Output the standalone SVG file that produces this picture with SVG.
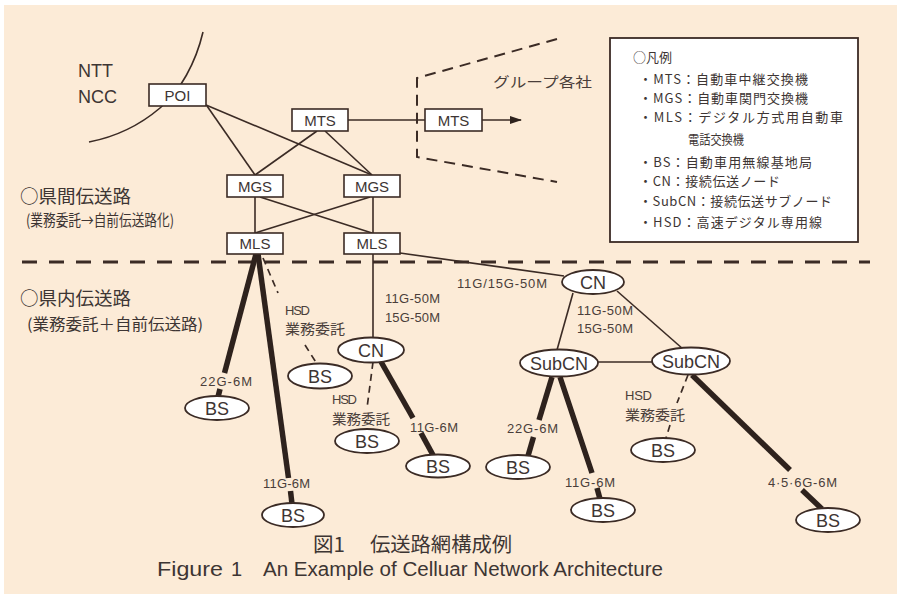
<svg xmlns="http://www.w3.org/2000/svg" width="903" height="598" viewBox="0 0 903 598">
<defs>
<style>
.ln{stroke:#3b2b25;stroke-width:1.6;fill:none}
.thk{stroke:#2e221d;stroke-width:5.5;fill:none}
.dsh{stroke:#3b2b25;stroke-width:1.7;fill:none;stroke-dasharray:7 5}
.box{fill:#fff;stroke:#3b2b25;stroke-width:1.6}
.ell{fill:#fff;stroke:#3b2b25;stroke-width:1.8}
.bt{font-family:"Liberation Sans","Noto Sans",sans-serif;font-size:15px;fill:#3d3533;text-anchor:middle}
.et{font-family:"Liberation Sans","Noto Sans",sans-serif;font-size:18px;fill:#3d3533;text-anchor:middle}
.lb{font-family:"Liberation Sans","Noto Sans",sans-serif;font-size:13px;fill:#4a3e3a}
.jl{font-family:"Noto Sans CJK JP",sans-serif;font-size:14px;fill:#4a3e3a}
.lg{font-family:"Noto Sans CJK JP",sans-serif;font-size:13px;fill:#3d3533}
.sec{font-family:"Noto Sans CJK JP",sans-serif;font-size:18.5px;fill:#3d3533}
.sub{font-family:"Noto Sans CJK JP",sans-serif;font-size:15.5px;fill:#3d3533}
.big{font-family:"Liberation Sans","Noto Sans",sans-serif;font-size:18px;fill:#3d3533}
.cap{fill:#3d3533}
</style>
<marker id="arr" markerWidth="12" markerHeight="8" refX="11" refY="4" orient="auto" markerUnits="userSpaceOnUse">
<path d="M0,0 L12,4 L0,8 Z" fill="#2e221d"/>
</marker>
</defs>
<rect x="0" y="0" width="903" height="598" fill="#ffffff"/>
<rect x="4" y="5" width="893" height="589" fill="#fcebd7"/>

<g id="boundaries">
<path class="ln" d="M203,32 C196,62 180,92 160,108 C140,125 115,137 89,142"/>
<path d="M557,39 L417,78 L417,157 L557,182" fill="none" stroke="#3b2b25" stroke-width="2" stroke-dasharray="11 7"/>
<line x1="22" y1="262" x2="870" y2="262" stroke="#3b2b25" stroke-width="3" stroke-dasharray="15 12"/>
</g>

<g id="labels-side">
<text class="big" x="78" y="77">NTT</text>
<text class="big" x="78" y="103">NCC</text>
<text class="jl" x="493" y="87" font-size="17" textLength="99" lengthAdjust="spacingAndGlyphs">グループ各社</text>
<text class="sec" x="20" y="203">○県間伝送路</text>
<text class="sub" x="26" y="226" textLength="148" lengthAdjust="spacingAndGlyphs">(業務委託→自前伝送路化)</text>
<text class="sec" x="20" y="305">○県内伝送路</text>
<text class="sub" x="27" y="330" textLength="176" lengthAdjust="spacingAndGlyphs">(業務委託＋自前伝送路)</text>
</g>

<g id="connectors">
<line class="ln" x1="207" y1="106" x2="255" y2="175"/>
<line class="ln" x1="206" y1="105" x2="372" y2="175"/>
<line class="ln" x1="317" y1="131" x2="255" y2="175"/>
<line class="ln" x1="325" y1="131" x2="372" y2="175"/>
<line class="ln" x1="348" y1="120" x2="425" y2="120"/>
<line class="ln" x1="482" y1="120" x2="521" y2="120" marker-end="url(#arr)"/>
<line class="ln" x1="255" y1="197" x2="255" y2="233"/>
<line class="ln" x1="260" y1="197" x2="372" y2="233"/>
<line class="ln" x1="370" y1="197" x2="255" y2="233"/>
<line class="ln" x1="373" y1="197" x2="373" y2="233"/>
<line class="ln" x1="373" y1="254" x2="373" y2="338"/>
<line class="ln" x1="400" y1="253" x2="564" y2="276"/>
<line class="ln" x1="573" y1="293" x2="557" y2="350"/>
<line class="ln" x1="617" y1="291" x2="683" y2="349"/>
<line class="ln" x1="598" y1="362" x2="652" y2="362"/>
<line class="thk" x1="256" y1="254" x2="224.5" y2="373"/>
<line class="thk" x1="220" y1="389" x2="218" y2="397"/>
<line class="thk" x1="258" y1="254" x2="288.5" y2="478"/>
<line class="thk" x1="290.5" y1="491" x2="292" y2="504"/>
<line class="dsh" x1="263" y1="258" x2="278" y2="293"/>
<line class="dsh" x1="305" y1="345" x2="317" y2="364"/>
<line class="dsh" x1="373" y1="362" x2="367" y2="408"/>
<line class="thk" x1="380" y1="360" x2="413" y2="418"/>
<line class="thk" x1="421" y1="433" x2="433" y2="455"/>
<line class="thk" x1="552" y1="377" x2="539" y2="420"/>
<line class="thk" x1="533.5" y1="437" x2="528" y2="456"/>
<line class="thk" x1="560" y1="377" x2="592" y2="473"/>
<line class="thk" x1="597" y1="488" x2="600" y2="499"/>
<line class="dsh" x1="688" y1="375" x2="677" y2="403"/>
<line class="dsh" x1="670" y1="425" x2="666" y2="438"/>
<line class="thk" x1="692" y1="375" x2="790" y2="470"/>
<line class="thk" x1="802" y1="490" x2="822" y2="509"/>
</g>

<g id="poi"><rect class="box" x="149" y="84" width="57" height="22"/><text class="bt" x="177.5" y="100.5">POI</text></g>
<g id="mts1"><rect class="box" x="292" y="109" width="56" height="22"/><text class="bt" x="320" y="125.5">MTS</text></g>
<g id="mts2"><rect class="box" x="425" y="109" width="57" height="22"/><text class="bt" x="453.5" y="125.5">MTS</text></g>
<g id="mgs1"><rect class="box" x="227" y="175" width="56" height="22"/><text class="bt" x="255" y="191.5">MGS</text></g>
<g id="mgs2"><rect class="box" x="344" y="175" width="56" height="22"/><text class="bt" x="372" y="191.5">MGS</text></g>
<g id="mls1"><rect class="box" x="227" y="233" width="56" height="21"/><text class="bt" x="255" y="249">MLS</text></g>
<g id="mls2"><rect class="box" x="344" y="233" width="56" height="21"/><text class="bt" x="372" y="249">MLS</text></g>

<g id="cn1"><ellipse class="ell" cx="371" cy="350" rx="33" ry="12.5"/><text class="et" x="371" y="356.5" font-size="19">CN</text></g>
<g id="cn2"><ellipse class="ell" cx="593" cy="282" rx="31" ry="12"/><text class="et" x="593" y="288.5" font-size="19">CN</text></g>
<g id="subcn1"><ellipse class="ell" cx="559" cy="363" rx="39" ry="13.5"/><text class="et" x="559" y="369.5" font-size="17.5">SubCN</text></g>
<g id="subcn2"><ellipse class="ell" cx="691" cy="361" rx="39" ry="13.5"/><text class="et" x="691" y="367.5" font-size="17.5">SubCN</text></g>
<g id="bs1"><ellipse class="ell" cx="217" cy="408" rx="32" ry="12"/><text class="et" x="217" y="414.5">BS</text></g>
<g id="bs2"><ellipse class="ell" cx="320" cy="376" rx="32" ry="12.5"/><text class="et" x="320" y="382.5">BS</text></g>
<g id="bs3"><ellipse class="ell" cx="293" cy="515" rx="31" ry="12"/><text class="et" x="293" y="521.5">BS</text></g>
<g id="bs4"><ellipse class="ell" cx="367" cy="441" rx="32" ry="12"/><text class="et" x="367" y="447.5">BS</text></g>
<g id="bs5"><ellipse class="ell" cx="438" cy="466" rx="32" ry="11.5"/><text class="et" x="438" y="472.5">BS</text></g>
<g id="bs6"><ellipse class="ell" cx="518" cy="467" rx="32" ry="12"/><text class="et" x="518" y="473.5">BS</text></g>
<g id="bs7"><ellipse class="ell" cx="603" cy="510" rx="32" ry="12"/><text class="et" x="603" y="516.5">BS</text></g>
<g id="bs8"><ellipse class="ell" cx="663" cy="450" rx="32" ry="12"/><text class="et" x="663" y="456.5">BS</text></g>
<g id="bs9"><ellipse class="ell" cx="828" cy="520" rx="32" ry="12"/><text class="et" x="828" y="526.5">BS</text></g>

<g id="link-labels">
<text class="lb" x="200" y="386" textLength="52">22G-6M</text>
<text class="lb" x="263" y="488" textLength="47">11G-6M</text>
<text class="lb" x="285" y="315" textLength="25">HSD</text>
<text class="jl" x="285" y="334" textLength="60" lengthAdjust="spacingAndGlyphs">業務委託</text>
<text class="lb" x="385" y="303" textLength="55">11G-50M</text>
<text class="lb" x="385" y="322" textLength="55">15G-50M</text>
<text class="lb" x="332" y="404" textLength="25">HSD</text>
<text class="jl" x="332" y="424" textLength="58" lengthAdjust="spacingAndGlyphs">業務委託</text>
<text class="lb" x="410" y="432" textLength="48">11G-6M</text>
<text class="lb" x="457" y="288" textLength="90">11G/15G-50M</text>
<text class="lb" x="577" y="315" textLength="56">11G-50M</text>
<text class="lb" x="577" y="333" textLength="56">15G-50M</text>
<text class="lb" x="507" y="433" textLength="51">22G-6M</text>
<text class="lb" x="565" y="487" textLength="50">11G-6M</text>
<text class="lb" x="625" y="400" textLength="27">HSD</text>
<text class="jl" x="625" y="420" textLength="60" lengthAdjust="spacingAndGlyphs">業務委託</text>
<text class="lb" x="768" y="487" textLength="69">4·5·6G-6M</text>
</g>

<g id="legend">
<rect x="610" y="38" width="248" height="204" fill="#fff" stroke="#3b2b25" stroke-width="1.8"/>
<text class="lg" x="633" y="62" font-size="14">○凡例</text>
<text class="lg" x="639" y="84" textLength="169">・MTS：自動車中継交換機</text>
<text class="lg" x="639" y="103" textLength="169">・MGS：自動車関門交換機</text>
<text class="lg" x="639" y="122" textLength="204">・MLS：デジタル方式用自動車</text>
<text class="lg" x="688" y="144" textLength="56" lengthAdjust="spacingAndGlyphs">電話交換機</text>
<text class="lg" x="639" y="167" textLength="173">・BS：自動車用無線基地局</text>
<text class="lg" x="639" y="186" textLength="141">・CN：接続伝送ノード</text>
<text class="lg" x="639" y="206" textLength="193">・SubCN：接続伝送サブノード</text>
<text class="lg" x="639" y="227" textLength="183">・HSD：高速デジタル専用線</text>
</g>

<g id="caption">
<text class="cap" x="313" y="552" font-family="Noto Sans CJK JP,sans-serif" font-size="20" textLength="32" lengthAdjust="spacingAndGlyphs">図1</text>
<text class="cap" x="370" y="552" font-family="Noto Sans CJK JP,sans-serif" font-size="20" textLength="142" lengthAdjust="spacingAndGlyphs">伝送路網構成例</text>
<text class="cap" x="157" y="576" font-family="Liberation Sans,Noto Sans,sans-serif" font-size="20" textLength="66" lengthAdjust="spacingAndGlyphs">Figure</text>
<text class="cap" x="231" y="576" font-family="Liberation Sans,Noto Sans,sans-serif" font-size="20">1</text>
<text class="cap" x="263" y="576" font-family="Liberation Sans,Noto Sans,sans-serif" font-size="20" textLength="400" lengthAdjust="spacingAndGlyphs">An Example of Celluar Network Architecture</text>
</g>
</svg>
